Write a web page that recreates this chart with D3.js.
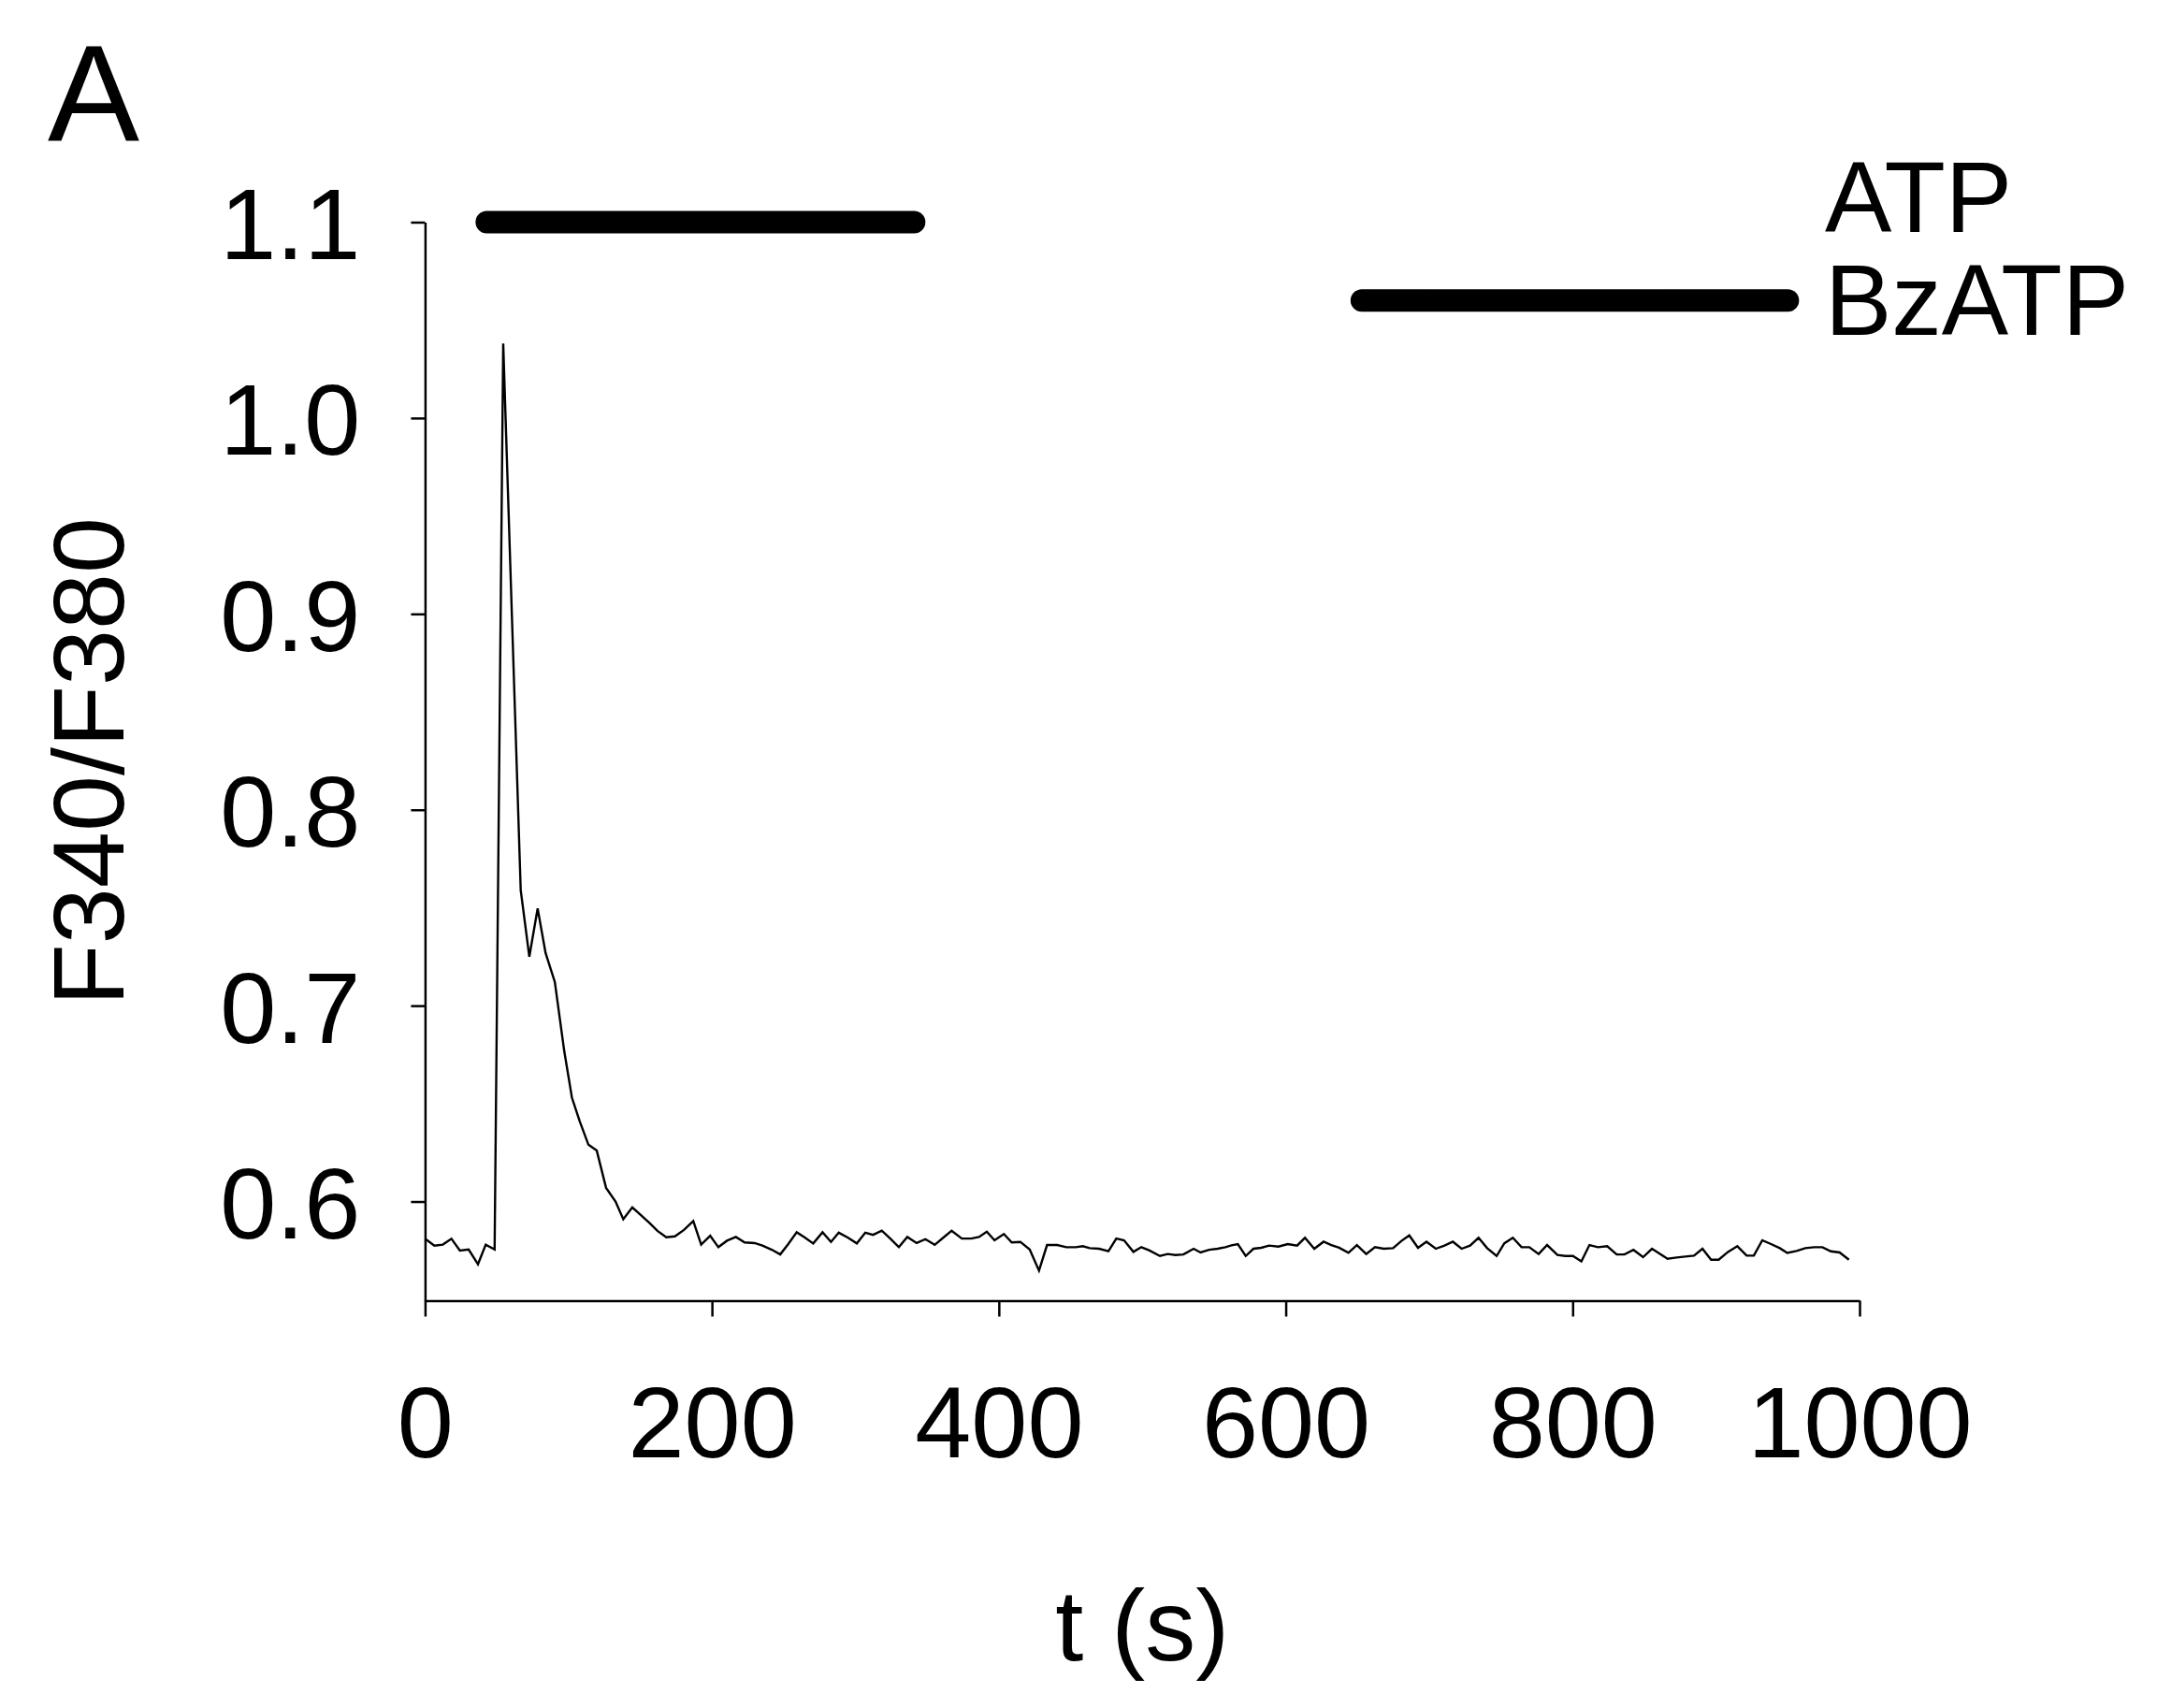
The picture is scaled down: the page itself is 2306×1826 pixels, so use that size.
<!DOCTYPE html>
<html>
<head>
<meta charset="utf-8">
<script src="https://cdn.jsdelivr.net/npm/d3@7"></script>
<style>
  html, body { margin: 0; padding: 0; background: #fff; }
  svg { display: block; }
  text { font-family: "Liberation Sans", Arial, sans-serif; fill: #000; }
</style>
</head>
<body>
<svg id="chart" width="2306" height="1826"></svg>
<script>
// ---- data ----
const times = [0,6.5,12.4,18.4,24.3,30.4,36.9,42.3,48.5,54.5,60.6,66.7,72.7,78.5,84,90.5,97,102.4,107.8,113.9,119.7,126.2,132.8,138.2,144.5,150.5,156.6,162,168.2,174.2,180.5,187,192.5,198.8,204.5,210.5,216.7,222.8,229.8,235.2,241.7,247.6,253.2,259.1,264.5,270.6,277.1,283,288.4,294.9,301,306.9,312.3,318.4,324.3,330.3,336.2,342.7,348.8,355.3,361.2,367.1,374.2,380.7,386.2,391.6,397,403.5,409,415,421.5,428,433.6,440.6,447.1,453.6,458.5,463.4,469.9,476.4,481.9,487.3,493.8,499.3,504.7,512.3,517.7,523.2,528.6,535.8,540.6,546.6,552.5,557.9,562.2,566.6,572.1,577.5,582.9,588.4,594.9,601.4,607.9,613.4,619.9,626.4,631.8,637.2,643.7,649.6,656.1,662.2,668.3,674.8,680.7,686.1,692.2,698.1,704.6,710.7,716.5,722.6,728.5,734.4,740.4,747,752.4,758.3,764.4,769.8,776.3,782.2,789.4,794.8,800.2,806.1,811.7,817.6,824.1,830.7,836.1,842.4,849.1,855.3,861.1,866.1,872.6,878.5,884.6,890.5,896.5,901.8,908.3,914.8,921.3,926.3,932.2,938.3,944.4,949.6,956.1,962.2,968.3,974.1,980,986.1,992.6];
const ratios = [0.581,0.5775,0.578,0.581,0.575,0.5755,0.568,0.578,0.5755,1.038,0.898,0.759,0.725,0.7496,0.727,0.712,0.677,0.653,0.641,0.629,0.626,0.607,0.600,0.591,0.597,0.593,0.589,0.585,0.5818,0.5822,0.5855,0.590,0.578,0.5825,0.5767,0.580,0.5819,0.5791,0.5788,0.5775,0.5754,0.5730,0.5783,0.5843,0.5818,0.5786,0.5843,0.5794,0.5841,0.5815,0.5786,0.5841,0.5830,0.5851,0.5811,0.5767,0.5819,0.5788,0.5808,0.5779,0.5815,0.5851,0.5811,0.5811,0.5819,0.5846,0.5802,0.5834,0.5791,0.5794,0.5755,0.5647,0.5778,0.5778,0.5767,0.5767,0.5772,0.5762,0.5759,0.5746,0.5811,0.5802,0.5743,0.5767,0.5751,0.5722,0.5732,0.5727,0.5730,0.5759,0.5740,0.5754,0.5759,0.5767,0.5776,0.5783,0.5722,0.5759,0.5764,0.5775,0.5770,0.5783,0.5775,0.5815,0.5759,0.5795,0.5778,0.5764,0.5738,0.5778,0.5732,0.5767,0.5759,0.5762,0.5799,0.5827,0.5764,0.5795,0.5759,0.5775,0.5795,0.5759,0.5775,0.5815,0.5762,0.5722,0.5787,0.5815,0.5767,0.5767,0.5732,0.5778,0.5727,0.5722,0.5722,0.5695,0.5778,0.5767,0.5772,0.5730,0.5730,0.5753,0.5716,0.5759,0.5732,0.5708,0.5714,0.5719,0.5724,0.5759,0.5703,0.5703,0.5743,0.5772,0.5724,0.5724,0.5802,0.5783,0.5762,0.5738,0.5748,0.5762,0.5767,0.5767,0.5746,0.5740,0.5703];

const xTicks = [0, 200, 400, 600, 800, 1000];
const yTicks = [0.6, 0.7, 0.8, 0.9, 1.0, 1.1];

const treatNames = ["ATP", "BzATP"];
const treatStart = [43, 653];
const treatEnd = [341, 950];
const treatLevel = [1.1, 1.06];

const panelLabel = "A";
const xTitle = "t (s)";
const yTitle = "F340/F380";

// ---- drawing ----
const svg = d3.select("#chart");
const x = d3.scaleLinear().domain([0, 1000]).range([454.4, 1988]);
const y = d3.scaleLinear().domain([0.5494, 1.1]).range([1390.5, 237.5]);

const FS = 108;

// y axis
const yAxis = svg.append("g")
  .attr("transform", `translate(${x(0)},0)`)
  .call(d3.axisLeft(y).tickValues(yTicks).tickFormat(d3.format(".1f"))
        .tickSize(15).tickSizeOuter(0).tickPadding(54));
yAxis.select(".domain").attr("stroke", "#000").attr("stroke-width", 2.5);
yAxis.selectAll(".tick line").attr("stroke", "#000").attr("stroke-width", 2.5);
yAxis.selectAll(".tick text").attr("font-size", FS).attr("font-family", "Liberation Sans, Arial, sans-serif")
  .attr("dy", "0.36em").attr("fill", "#000");

// x axis
const xAxis = svg.append("g")
  .attr("transform", `translate(0,${y(0.5494)})`)
  .call(d3.axisBottom(x).tickValues(xTicks).tickFormat(d3.format("d"))
        .tickSize(17).tickSizeOuter(0).tickPadding(74));
xAxis.select(".domain").attr("stroke", "#000").attr("stroke-width", 2.5);
xAxis.selectAll(".tick line").attr("stroke", "#000").attr("stroke-width", 2.5);
xAxis.selectAll(".tick text").attr("font-size", FS).attr("font-family", "Liberation Sans, Arial, sans-serif")
  .attr("dy", "0.71em").attr("fill", "#000");

// trace
const data = times.map((t, i) => ({ t, v: ratios[i] }));
svg.append("path")
  .datum(data)
  .attr("fill", "none")
  .attr("stroke", "#000")
  .attr("stroke-width", 2.4)
  .attr("stroke-linejoin", "miter")
  .attr("d", d3.line().x(d => x(d.t)).y(d => y(d.v)));

// treatment bars
treatNames.forEach((name, i) => {
  svg.append("line")
    .attr("x1", x(treatStart[i])).attr("x2", x(treatEnd[i]))
    .attr("y1", y(treatLevel[i])).attr("y2", y(treatLevel[i]))
    .attr("stroke", "#000").attr("stroke-width", 24).attr("stroke-linecap", "round");
});
svg.append("text").attr("x", 1951).attr("y", 248).attr("font-size", 107).text(treatNames[0]);
svg.append("text").attr("x", 1951).attr("y", 358).attr("font-size", 107).text(treatNames[1]);

// panel label
svg.append("text").attr("x", 51).attr("y", 151).attr("font-size", 147).text(panelLabel);

// axis titles
svg.append("text")
  .attr("x", (x(0) + x(1000)) / 2).attr("y", 1775)
  .attr("text-anchor", "middle").attr("font-size", FS).text(xTitle);
svg.append("text")
  .attr("transform", "translate(132,814) rotate(-90)")
  .attr("text-anchor", "middle").attr("font-size", FS).text(yTitle);
</script>
</body>
</html>
